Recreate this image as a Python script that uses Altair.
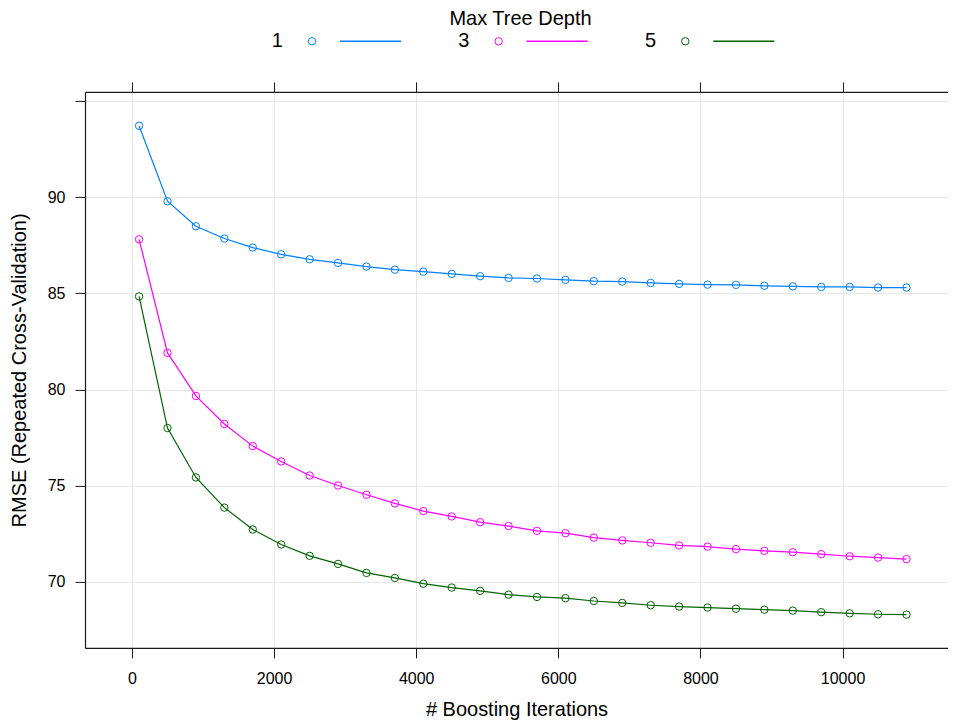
import altair as alt
import pandas as pd

# ---------------- data ----------------
iterations = [100, 500, 900, 1300, 1700, 2100, 2500, 2900, 3300, 3700,
              4100, 4500, 4900, 5300, 5700, 6100, 6500, 6900, 7300, 7700,
              8100, 8500, 8900, 9300, 9700, 10100, 10500, 10900]

rmse_depth1 = [93.72, 89.79, 88.49, 87.85, 87.38, 87.03, 86.77, 86.58, 86.39, 86.23,
               86.13, 86.01, 85.89, 85.80, 85.77, 85.70, 85.63, 85.61, 85.54, 85.49,
               85.45, 85.44, 85.39, 85.36, 85.33, 85.33, 85.30, 85.30]

rmse_depth3 = [87.81, 81.90, 79.66, 78.20, 77.05, 76.25, 75.52, 75.00, 74.52, 74.07,
               73.67, 73.39, 73.09, 72.89, 72.64, 72.52, 72.29, 72.14, 72.02, 71.88,
               71.82, 71.69, 71.60, 71.53, 71.43, 71.32, 71.25, 71.17]

rmse_depth5 = [84.84, 77.99, 75.42, 73.85, 72.71, 71.93, 71.34, 70.92, 70.45, 70.19,
               69.89, 69.69, 69.52, 69.32, 69.20, 69.14, 68.99, 68.89, 68.77, 68.70,
               68.65, 68.59, 68.54, 68.49, 68.41, 68.35, 68.30, 68.28]

depth_labels = ["1", "3", "5"]
depth_colors = ["#0080ff", "#ff00ff", "#006400"]

x_ticks = [0, 2000, 4000, 6000, 8000, 10000]
y_ticks = [70, 75, 80, 85, 90, 95]

legend_title = "Max Tree Depth"
x_title = "# Boosting Iterations"
y_title = "RMSE (Repeated Cross-Validation)"

# ---------------- table ----------------
rows = []
for d, vals in zip(depth_labels, [rmse_depth1, rmse_depth3, rmse_depth5]):
    for it, v in zip(iterations, vals):
        rows.append({"depth": d, "iterations": it, "rmse": v})
df = pd.DataFrame(rows)
leg_df = pd.DataFrame({"depth": depth_labels})

FONT = "Liberation Sans"
GRID = "#e6e6e6"
FRAME = "#1a1a1a"
PLOT_W = 863

x_scale = alt.Scale(domain=[-661, 11484], nice=False, zero=False)
y_scale = alt.Scale(domain=[66.55, 95.48], nice=False, zero=False)
color_enc = alt.Color("depth:N", scale=alt.Scale(domain=depth_labels, range=depth_colors), legend=None)

y_enc = alt.Y(
    "rmse:Q", scale=y_scale,
    axis=alt.Axis(values=y_ticks, labelExpr="datum.value > 90 ? '' : datum.label",
                  title=y_title, titleFont=FONT, titleFontSize=20, titleFontWeight="normal",
                  titleColor="black", titlePadding=18,
                  labelFont=FONT, labelFontSize=16, labelColor="black", labelPadding=10,
                  tickSize=10, tickColor=FRAME, tickWidth=1,
                  domain=True, domainColor=FRAME, domainWidth=1.2,
                  grid=True, gridColor=GRID, gridWidth=1),
)
x_bottom = alt.X(
    "iterations:Q", scale=x_scale,
    axis=alt.Axis(values=x_ticks, format="d", title=x_title, titleFont=FONT, titleFontSize=20,
                  titleFontWeight="normal", titleColor="black", titlePadding=13,
                  labelFont=FONT, labelFontSize=16, labelColor="black", labelPadding=13,
                  tickSize=10, tickColor=FRAME, tickWidth=1,
                  domain=True, domainColor=FRAME, domainWidth=1.2,
                  grid=True, gridColor=GRID, gridWidth=1),
)
x_plain = alt.X("iterations:Q", scale=x_scale, axis=None)
x_top = alt.X(
    "iterations:Q", scale=x_scale,
    axis=alt.Axis(orient="top", values=x_ticks, labels=False, title=None, tickSize=10,
                  tickColor=FRAME, tickWidth=1,
                  domain=True, domainColor=FRAME, domainWidth=1.2, grid=False),
)

lines = alt.Chart(df).mark_line(strokeWidth=1.2).encode(
    x=x_bottom, y=y_enc, color=color_enc, order="iterations:Q")
points = alt.Chart(df).mark_point(filled=False, size=55, strokeWidth=1, opacity=1).encode(
    x=x_plain, y=y_enc, color=color_enc)
top_ticks = alt.Chart(df).mark_point(opacity=0).encode(x=x_top, y=y_enc)

main = alt.layer(lines, points, top_ticks).resolve_axis(x="independent").properties(
    width=PLOT_W, height=556,
)

# ---------------- legend panel (lattice-style key) ----------------
leg_x = alt.X("depth:N", scale=alt.Scale(type="point", domain=depth_labels,
                                         range=[248.4, 621.7], padding=0), axis=None)
leg_text = alt.Chart(leg_df).mark_text(font=FONT, fontSize=20, color="black", dx=-56.2,
                                       align="center", baseline="middle").encode(
    x=leg_x, y=alt.value(10), text="depth:N")
leg_sym = alt.Chart(leg_df).mark_point(filled=False, size=55, strokeWidth=1, opacity=1,
                                       xOffset=-21.4).encode(
    x=leg_x, y=alt.value(10), color=color_enc)
leg_seg = alt.Chart(leg_df).mark_rule(strokeWidth=1.5, xOffset=6.6, x2Offset=67.6).encode(
    x=leg_x, x2="depth:N", y=alt.value(10), color=color_enc)

legend = alt.layer(leg_text, leg_sym, leg_seg).properties(
    width=PLOT_W, height=20,
    title=alt.TitleParams(legend_title, font=FONT, fontSize=20, fontWeight="normal",
                          color="black", anchor="middle", baseline="alphabetic",
                          offset=-14, dx=4),
)

chart = alt.vconcat(legend, main, spacing=40.6, bounds="flush").resolve_scale(
    x="independent", y="independent"
).properties(
    padding={"left": 1, "top": 1.3, "right": 0, "bottom": 0},
    background="white",
).configure_view(strokeOpacity=0)

chart.save("out.html", embed_options={"renderer": "svg", "actions": False})
